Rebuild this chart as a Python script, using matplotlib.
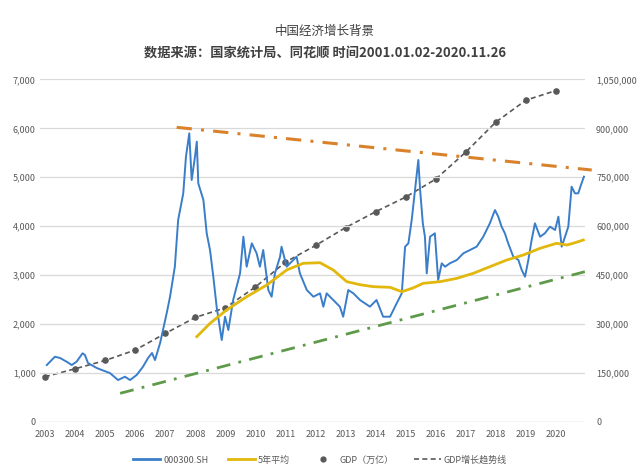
import numpy as np
from matplotlib import pyplot as plt
from matplotlib.lines import Line2D

plt.rcParams['font.family'] = ['Noto Sans CJK SC', 'DejaVu Sans']

# 000300.SH (decimal year, index level)
idx_year = [2003.06, 2003.33, 2003.50, 2003.72, 2003.89, 2004.05, 2004.25, 2004.33, 2004.43, 2004.72,
            2004.89, 2005.16, 2005.43, 2005.66, 2005.83, 2006.05, 2006.26, 2006.43, 2006.56, 2006.66,
            2006.83, 2007.05, 2007.16, 2007.32, 2007.43, 2007.60, 2007.69, 2007.80, 2007.88, 2007.99,
            2008.05, 2008.10, 2008.27, 2008.38, 2008.49, 2008.60, 2008.71, 2008.88, 2008.99, 2009.10,
            2009.26, 2009.49, 2009.60, 2009.71, 2009.88, 2010.04, 2010.15, 2010.26, 2010.43, 2010.54,
            2010.65, 2010.82, 2010.87, 2011.04, 2011.26, 2011.37, 2011.48, 2011.71, 2011.93, 2012.15,
            2012.26, 2012.37, 2012.59, 2012.81, 2012.92, 2013.09, 2013.26, 2013.48, 2013.81, 2014.03,
            2014.25, 2014.48, 2014.70, 2014.87, 2014.98, 2015.09, 2015.20, 2015.31, 2015.42, 2015.48,
            2015.57, 2015.64, 2015.70, 2015.81, 2015.97, 2016.08, 2016.20, 2016.31, 2016.47, 2016.70,
            2016.92, 2017.14, 2017.36, 2017.58, 2017.80, 2017.97, 2018.08, 2018.19, 2018.30, 2018.41,
            2018.58, 2018.75, 2018.86, 2018.97, 2019.08, 2019.19, 2019.30, 2019.47, 2019.63, 2019.80,
            2019.97, 2020.08, 2020.19, 2020.30, 2020.41, 2020.52, 2020.63, 2020.74, 2020.85, 2020.93]
idx_value = [1156, 1326, 1300, 1224, 1156, 1224, 1396, 1361, 1197, 1095,
             1054, 992, 849, 917, 849, 952, 1122, 1300, 1402, 1258,
             1606, 2220, 2554, 3168, 4124, 4670, 5420, 5898, 4943, 5420,
             5727, 4875, 4533, 3852, 3510, 2964, 2350, 1668, 2145, 1873,
             2487, 3033, 3782, 3168, 3647, 3443, 3168, 3510, 2691, 2554,
             3033, 3373, 3578, 3168, 3305, 3373, 3033, 2691, 2554, 2623,
             2350, 2623, 2487, 2350, 2145, 2691, 2623, 2487, 2350, 2487,
             2145, 2145, 2419, 2623, 3578, 3647, 4124, 4738, 5352, 4738,
             4056, 3782, 3033, 3782, 3852, 2896, 3238, 3168, 3238, 3305,
             3443, 3510, 3578, 3782, 4056, 4328, 4192, 3988, 3852, 3647,
             3373, 3305, 3101, 2964, 3305, 3715, 4056, 3782, 3852, 3988,
             3920, 4192, 3578, 3782, 3988, 4806, 4670, 4670, 4875, 5011]

# 5年平均
ma_year = [2008.05, 2008.49, 2009.04, 2009.71, 2010.38, 2011.04, 2011.59, 2012.15, 2012.59, 2013.04,
           2013.48, 2013.92, 2014.48, 2014.87, 2015.24, 2015.58, 2016.14, 2016.70, 2017.25, 2017.80,
           2018.36, 2018.91, 2019.47, 2020.02, 2020.36, 2020.57, 2020.91]
ma_value = [1736, 2009, 2282, 2554, 2794, 3101, 3238, 3250, 3101, 2862,
            2800, 2760, 2746, 2657, 2732, 2828, 2862, 2930, 3033, 3168,
            3305, 3407, 3545, 3647, 3612, 3647, 3715]

# GDP (亿元)
gdp_year = list(range(2003, 2021))
gdp_value = [137422, 161840, 187319, 219439, 270232, 319516, 349081, 413030, 489301, 540367,
             595244, 643974, 689052, 744127, 827122, 919281, 986515, 1015986]

# hand-drawn trend lines (year, index level)
upper_year = [2007.38, 2021.19]
upper_value = [6021, 5147]
lower_year = [2005.50, 2020.96]
lower_value = [577, 3066]

blue = '#3a7dc9'
yellow = '#e2b80c'
orange = '#d9822b'
green = '#5e9a4a'
grey = '#595959'

fig = plt.figure(figsize=(6.4, 4.67), dpi=100)
ax = fig.add_axes([0.0625, 0.0974, 0.8515, 0.7324])
ax2 = ax.twinx()

ax.plot(idx_year, idx_value, color=blue, lw=1.4, zorder=3)
ax.plot(ma_year, ma_value, color=yellow, lw=2.0, zorder=4)
ax.plot(upper_year, upper_value, color=orange, lw=2.2, ls=(0, (5, 3, 1, 3)), clip_on=False, zorder=2)
ax.plot(lower_year, lower_value, color=green, lw=2.0, ls=(0, (5, 3, 1, 3)), zorder=2)
ax2.plot(gdp_year, gdp_value, color=grey, lw=1.2, ls=(0, (3, 2)), zorder=2)
ax2.scatter(gdp_year, gdp_value, color=grey, s=14, zorder=3)

ax.set_ylim(0, 7000)
ax2.set_ylim(0, 1050000)
ax.set_xlim(2002.834, 2020.964)
ax.set_yticks(range(0, 7001, 1000))
ax2.set_yticks(range(0, 1050001, 150000))
ax.set_yticklabels([f'{v:,}' for v in range(0, 7001, 1000)])
ax2.set_yticklabels([f'{v:,}' for v in range(0, 1050001, 150000)])
ax.set_xticks(gdp_year)
ax.set_xticklabels([str(y) for y in gdp_year])

for a in (ax, ax2):
    for s in a.spines.values():
        s.set_visible(False)
    a.tick_params(length=0, labelsize=6.5, labelcolor=grey)
ax.tick_params(axis='y', pad=3)
ax2.tick_params(axis='y', pad=8)
ax.tick_params(axis='x', pad=6)
ax.grid(axis='y', color='#d9d9d9', lw=0.9)
ax.set_axisbelow(True)
ax.axhline(0, color='#d0d0d0', lw=0.9)
ax.set_zorder(ax2.get_zorder() + 1)
ax.patch.set_visible(False)

fig.text(0.508, 0.933, '中国经济增长背景', ha='center', va='center', fontsize=9, color='#404040')
fig.text(0.508, 0.888, '数据来源：国家统计局、同花顺 时间2001.01.02-2020.11.26', ha='center', va='center',
         fontsize=9.5, fontweight='bold', color='#404040')

handles = [Line2D([], [], color=blue, lw=2),
           Line2D([], [], color=yellow, lw=2),
           Line2D([], [], color=grey, lw=0, marker='o', ms=3.5),
           Line2D([], [], color=grey, lw=1.2, ls=(0, (3, 2)))]
labels = ['000300.SH', '5年平均', 'GDP（万亿）', 'GDP增长趋势线']
fig.legend(handles, labels, loc='center', bbox_to_anchor=(0.5, 0.015), ncol=4, frameon=False,
           fontsize=6.5, labelcolor=grey, handlelength=3, columnspacing=2.2, handletextpad=0.3)

plt.savefig('out.png', dpi=100)
